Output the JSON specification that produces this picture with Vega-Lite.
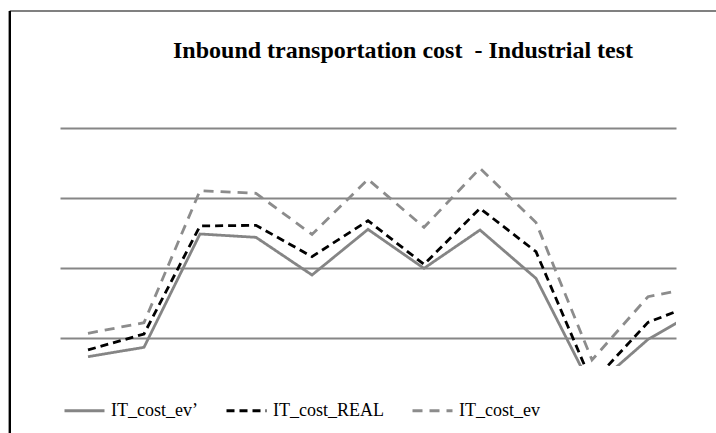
{
  "$schema": "https://vega.github.io/schema/vega-lite/v6.json",
  "autosize": {"type": "none"},
  "width": 616,
  "height": 308,
  "padding": {"left": 60, "top": 58, "right": 40, "bottom": 67},
  "background": "white",
  "title": {
    "text": "Inbound transportation cost \u00a0- Industrial test",
    "anchor": "start",
    "frame": "group",
    "dx": 113,
    "dy": 72,
    "offset": 0,
    "baseline": "alphabetic",
    "font": "Liberation Serif",
    "fontSize": 24,
    "fontWeight": "bold",
    "color": "#000000"
  },
  "config": {
    "view": {"stroke": null},
    "font": "Liberation Serif",
    "legend": {
      "labelFont": "Liberation Serif",
      "labelFontSize": 18,
      "labelColor": "#000000",
      "labelOffset": 5,
      "columnPadding": 22,
      "labelLimit": 300,
      "symbolType": "stroke",
      "symbolSize": 1600,
      "symbolStrokeWidth": 3
    }
  },
  "data": {
    "values": [
      {"i": 1, "series": "IT_cost_ev’", "v": 0.733},
      {"i": 2, "series": "IT_cost_ev’", "v": 0.867},
      {"i": 3, "series": "IT_cost_ev’", "v": 2.486},
      {"i": 4, "series": "IT_cost_ev’", "v": 2.438},
      {"i": 5, "series": "IT_cost_ev’", "v": 1.9},
      {"i": 6, "series": "IT_cost_ev’", "v": 2.552},
      {"i": 7, "series": "IT_cost_ev’", "v": 1.995},
      {"i": 8, "series": "IT_cost_ev’", "v": 2.543},
      {"i": 9, "series": "IT_cost_ev’", "v": 1.852},
      {"i": 10, "series": "IT_cost_ev’", "v": 0.28},
      {"i": 11, "series": "IT_cost_ev’", "v": 0.98},
      {"i": 12, "series": "IT_cost_ev’", "v": 1.44},
      {"i": 1, "series": "IT_cost_REAL", "v": 0.829},
      {"i": 2, "series": "IT_cost_REAL", "v": 1.057},
      {"i": 3, "series": "IT_cost_REAL", "v": 2.6},
      {"i": 4, "series": "IT_cost_REAL", "v": 2.61},
      {"i": 5, "series": "IT_cost_REAL", "v": 2.162},
      {"i": 6, "series": "IT_cost_REAL", "v": 2.676},
      {"i": 7, "series": "IT_cost_REAL", "v": 2.052},
      {"i": 8, "series": "IT_cost_REAL", "v": 2.852},
      {"i": 9, "series": "IT_cost_REAL", "v": 2.233},
      {"i": 10, "series": "IT_cost_REAL", "v": 0.36},
      {"i": 11, "series": "IT_cost_REAL", "v": 1.224},
      {"i": 12, "series": "IT_cost_REAL", "v": 1.53},
      {"i": 1, "series": "IT_cost_ev", "v": 1.067},
      {"i": 2, "series": "IT_cost_ev", "v": 1.219},
      {"i": 3, "series": "IT_cost_ev", "v": 3.105},
      {"i": 4, "series": "IT_cost_ev", "v": 3.067},
      {"i": 5, "series": "IT_cost_ev", "v": 2.48},
      {"i": 6, "series": "IT_cost_ev", "v": 3.267},
      {"i": 7, "series": "IT_cost_ev", "v": 2.581},
      {"i": 8, "series": "IT_cost_ev", "v": 3.424},
      {"i": 9, "series": "IT_cost_ev", "v": 2.65},
      {"i": 10, "series": "IT_cost_ev", "v": 0.686},
      {"i": 11, "series": "IT_cost_ev", "v": 1.59},
      {"i": 12, "series": "IT_cost_ev", "v": 1.75}
    ]
  },
  "layer": [
    {
      "mark": {"type": "line", "clip": true, "strokeWidth": 2.8},
      "encoding": {
        "x": {"field": "i", "type": "quantitative", "axis": null, "scale": {"domain": [0.5, 11.5], "nice": false, "zero": false}},
        "y": {
          "field": "v",
          "type": "quantitative",
          "scale": {"domain": [0.6, 5], "nice": false, "zero": false},
          "axis": {
            "values": [1, 2, 3, 4],
            "grid": true,
            "gridColor": "#868686",
            "gridWidth": 2,
            "labels": false,
            "ticks": false,
            "domain": false,
            "title": null
          }
        },
        "color": {
          "field": "series",
          "type": "nominal",
          "scale": {"domain": ["IT_cost_ev’", "IT_cost_REAL", "IT_cost_ev"], "range": ["#858585", "#000000", "#8c8c8c"]},
          "legend": {
            "title": null,
            "orient": "none",
            "direction": "horizontal",
            "columns": 3,
            "legendX": 3,
            "legendY": 331,
            "labelFont": "Liberation Serif",
            "labelFontSize": 18
          }
        },
        "strokeDash": {
          "field": "series",
          "type": "nominal",
          "scale": {"domain": ["IT_cost_ev’", "IT_cost_REAL", "IT_cost_ev"], "range": [[1, 0], [8, 5], [10, 7]]},
          "legend": {
            "title": null,
            "labelFont": "Liberation Serif",
            "labelFontSize": 18
          }
        }
      }
    },
    {
      "mark": {"type": "rule", "color": "#808080", "strokeWidth": 2, "clip": false},
      "encoding": {
        "x": {"datum": -0.393},
        "x2": {"datum": 13},
        "y": {"datum": 5.671}
      }
    },
    {
      "mark": {"type": "rule", "color": "#000000", "strokeWidth": 2, "clip": false},
      "encoding": {
        "x": {"datum": -0.393},
        "y": {"datum": 5.671},
        "y2": {"datum": -1}
      }
    }
  ]
}
